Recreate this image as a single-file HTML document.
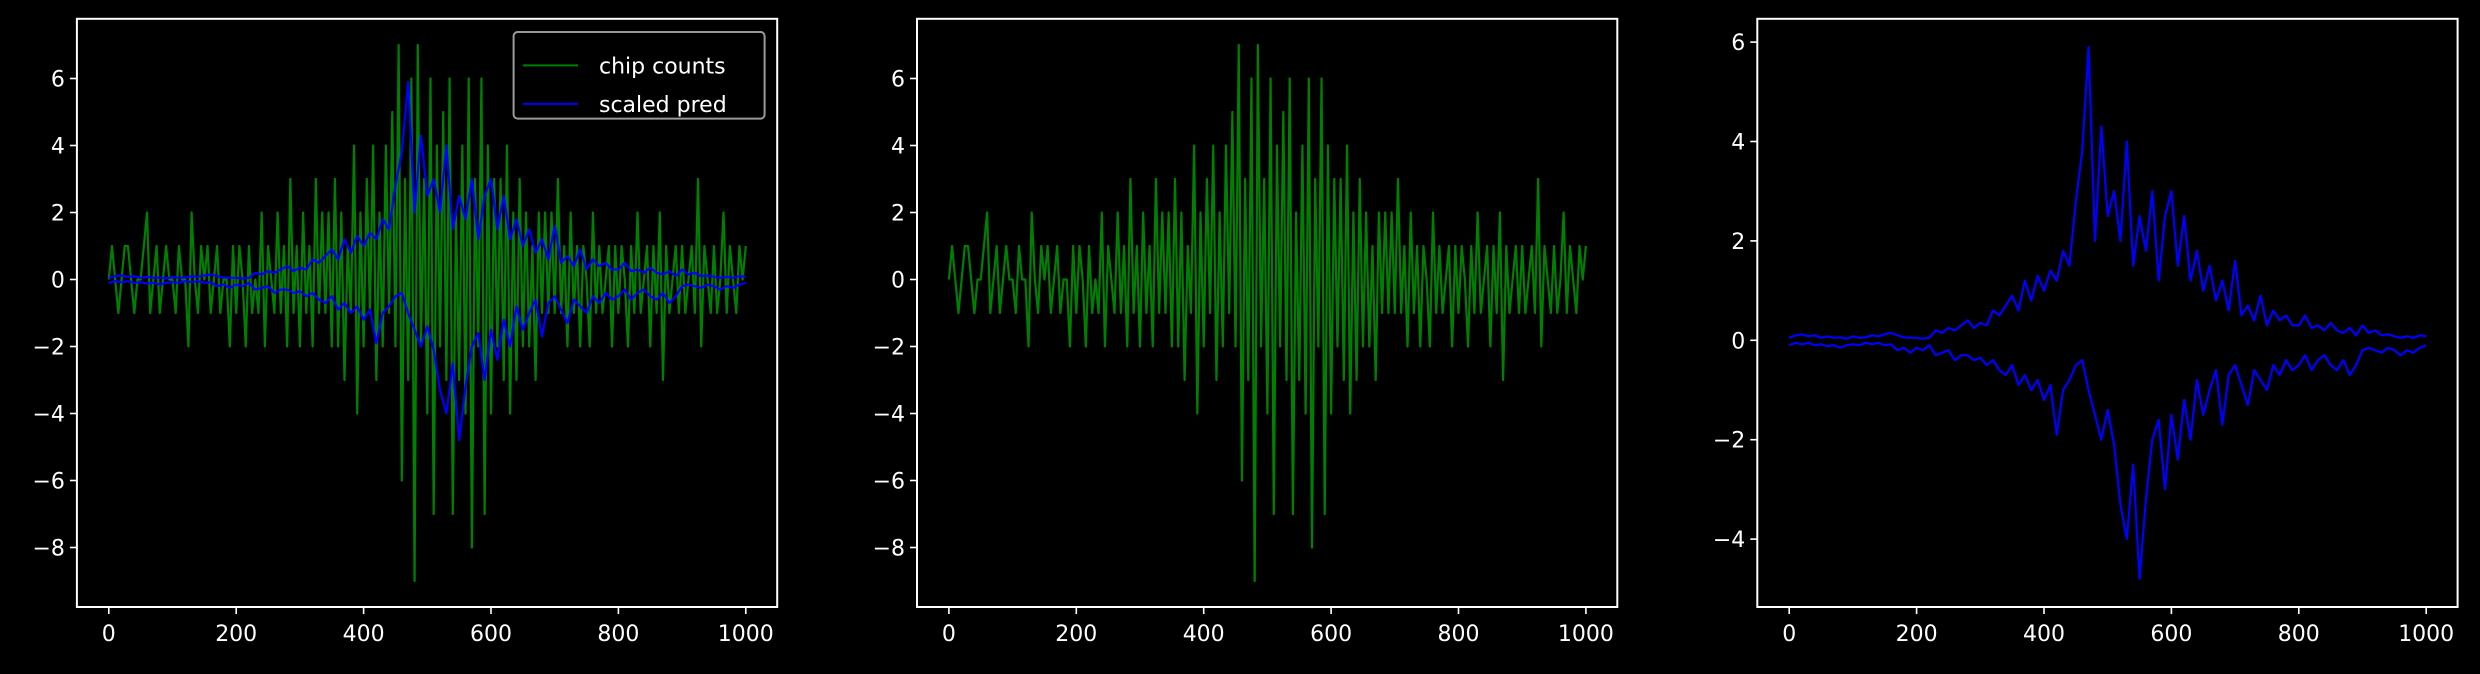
<!DOCTYPE html>
<html><head><meta charset="utf-8"><style>
html,body{margin:0;padding:0;background:#000;}
svg{display:block;}
text{font-family:"DejaVu Sans","Liberation Sans",sans-serif;fill:#fff;}
</style></head><body>
<svg id="fig" width="2480" height="674" viewBox="0 0 2480 674" xmlns="http://www.w3.org/2000/svg">
<rect width="2480" height="674" fill="#000"/>
</svg>
<script>
const xTicks = [0,200,400,600,800,1000];
const yTicks12 = [-8,-6,-4,-2,0,2,4,6];
const yTicks3 = [-4,-2,0,2,4,6];
const chipCounts = [
0,1,0,-1,0,1,1,0,-1,0,0,1,2,-1,0,1,-1,0,1,0,
0,-1,1,0,0,-2,2,0,-1,1,0,1,-1,0,1,-1,0,0,-2,1,
-1,1,0,-2,1,-1,0,-1,2,-2,1,0,-1,2,-1,1,-2,3,-1,1,
-2,2,-1,1,-2,3,-1,2,-1,2,-2,3,-2,2,-3,1,-1,4,-4,2,
-2,3,-1,4,-3,2,-2,4,-1,5,-2,7,-6,3,-3,6,-9,7,-2,3,
-4,6,-7,4,-2,5,-3,6,-7,2,-3,4,-4,6,-8,3,-2,6,-7,4,
-4,3,-2,3,-3,4,-4,2,-3,3,-2,2,-2,1,-3,2,-1,2,-1,2,
-1,3,-1,1,-2,2,-1,1,-2,1,0,-2,2,-1,1,-1,0,1,-2,1,
-1,1,0,-2,1,-1,2,-1,0,1,-2,1,-1,2,-3,1,-1,0,1,-1,
1,-1,0,1,-1,3,-2,1,0,-1,1,-1,0,2,-1,1,0,-1,1,0,1];
const predUpper = [
0.05,0.1,0.12,0.08,0.1,0.05,0.08,0.05,0.06,0.03,
0.08,0.05,0.06,0.1,0.08,0.12,0.15,0.1,0.06,0.05,
0.05,0.03,0.05,0.2,0.15,0.25,0.2,0.3,0.4,0.25,
0.35,0.3,0.6,0.5,0.7,0.9,0.6,1.2,0.8,1.3,
1.0,1.4,1.2,1.8,1.5,2.8,3.8,5.9,2.0,4.3,
2.5,3.0,2.0,4.0,1.5,2.5,1.8,3.0,1.2,2.5,
3.0,1.5,2.5,1.2,1.8,1.0,1.5,0.8,1.2,0.6,
1.6,0.5,0.7,0.4,0.9,0.3,0.6,0.4,0.5,0.3,
0.3,0.5,0.25,0.3,0.2,0.35,0.2,0.15,0.25,0.1,
0.3,0.15,0.2,0.1,0.12,0.08,0.05,0.08,0.05,0.1,0.08];
const predLower = [
-0.1,-0.05,-0.08,-0.05,-0.1,-0.08,-0.12,-0.1,-0.15,-0.1,
-0.08,-0.1,-0.05,-0.08,-0.05,-0.1,-0.08,-0.2,-0.15,-0.25,
-0.15,-0.2,-0.1,-0.3,-0.25,-0.2,-0.4,-0.3,-0.3,-0.4,
-0.35,-0.5,-0.4,-0.6,-0.7,-0.5,-0.9,-0.7,-1.0,-0.8,
-1.2,-0.9,-1.9,-1.0,-0.8,-0.5,-0.4,-1.0,-1.5,-2.0,
-1.4,-2.1,-3.3,-4.0,-2.5,-4.8,-3.2,-2.0,-1.6,-3.0,
-1.5,-2.4,-1.2,-2.0,-0.8,-1.5,-1.0,-0.6,-1.7,-0.7,
-0.5,-0.9,-1.3,-0.6,-0.8,-1.0,-0.5,-0.7,-0.4,-0.6,
-0.5,-0.3,-0.6,-0.4,-0.3,-0.5,-0.6,-0.4,-0.7,-0.5,
-0.2,-0.15,-0.2,-0.25,-0.15,-0.2,-0.3,-0.2,-0.25,-0.15,-0.1];
const chipStep = 5, predStep = 10;

const NS = "http://www.w3.org/2000/svg";
const fig = document.getElementById('fig');
function mk(tag, attrs, parent){const e=document.createElementNS(NS,tag);for(const k in attrs)e.setAttribute(k,attrs[k]);(parent||fig).appendChild(e);return e;}
function fmt(v){return v<0?'\u2212'+(-v):''+v;}

function panel(idx, left, yTop, yBot, ymax, ymin, yTicks, series){
  const right = left + 700.3;
  const x = v => left + 31.9 + v*0.637;
  const y = v => yTop + (ymax - v)/(ymax - ymin)*(yBot - yTop);
  const g = mk('g',{});
  
  
  const clipId='clip'+idx;
  const cp=mk('clipPath',{id:clipId},g);
  mk('rect',{x:left,y:yTop,width:right-left,height:yBot-yTop},cp);
  series.forEach(s=>{
    let d='';
    s.data.forEach((v,i)=>{d+=(i?'L':'M')+x(i*s.step).toFixed(2)+','+y(v).toFixed(2);});
    const p=mk('path',{d:d,fill:'none',stroke:s.color,'stroke-width':s.w,'stroke-linejoin':'round','clip-path':'url(#'+clipId+')'},g);
    
    
  });
  const frame=mk('rect',{x:left,y:yTop,width:right-left,height:yBot-yTop,fill:'none',stroke:'#fff','stroke-width':2},g);
  
  
  xTicks.forEach(t=>{
    const xx=x(t);
    mk('line',{x1:xx,x2:xx,y1:yBot,y2:yBot+7,stroke:'#fff','stroke-width':1.6},g);
    const tx=mk('text',{x:xx,y:yBot+34,'font-size':22,'text-anchor':'middle'},g);
    tx.textContent=t;
    
    
  });
  yTicks.forEach(t=>{
    const yy=y(t);
    mk('line',{x1:left-7,x2:left,y1:yy,y2:yy,stroke:'#fff','stroke-width':1.6},g);
    const tx=mk('text',{x:left-12,y:yy+8,'font-size':22,'text-anchor':'end'},g);
    tx.textContent=fmt(t);
    
    
  });
  return g;
}
const green={data:chipCounts,step:chipStep,color:'#008000',w:2.2,name:'chip-counts-line'};
const bu={data:predUpper,step:predStep,color:'#0000ff',w:2.2,name:'scaled-pred-upper-line'};
const bl={data:predLower,step:predStep,color:'#0000ff',w:2.2,name:'scaled-pred-lower-line'};
const p1max=(279.5-18.8)/33.5, p1min=-(607-279.5)/33.5;
const g1=panel(1,76.9,18.8,607,p1max,p1min,yTicks12,[green,bu,bl]);
panel(2,917,18.8,607,p1max,p1min,yTicks12,[green]);
panel(3,1757.3,18.8,607,(340.3-18.8)/49.7,-(607-340.3)/49.7,yTicks3,[bu,bl]);

const lg=mk('g',{},g1);


mk('rect',{x:513.6,y:32,width:251,height:86.6,rx:4,fill:'#000',stroke:'#999','stroke-width':2},lg);
[['chip counts','#008000',54.4],['scaled pred','#0000ff',92.9]].forEach(([t,c,yy])=>{
  const e=mk('g',{},lg);
  
  
  mk('line',{x1:523,x2:578,y1:yy+11,y2:yy+11,stroke:c,'stroke-width':2},e);
  const tx=mk('text',{x:599,y:yy+19,'font-size':22},e);
  tx.textContent=t;
});
</script>
</body></html>
